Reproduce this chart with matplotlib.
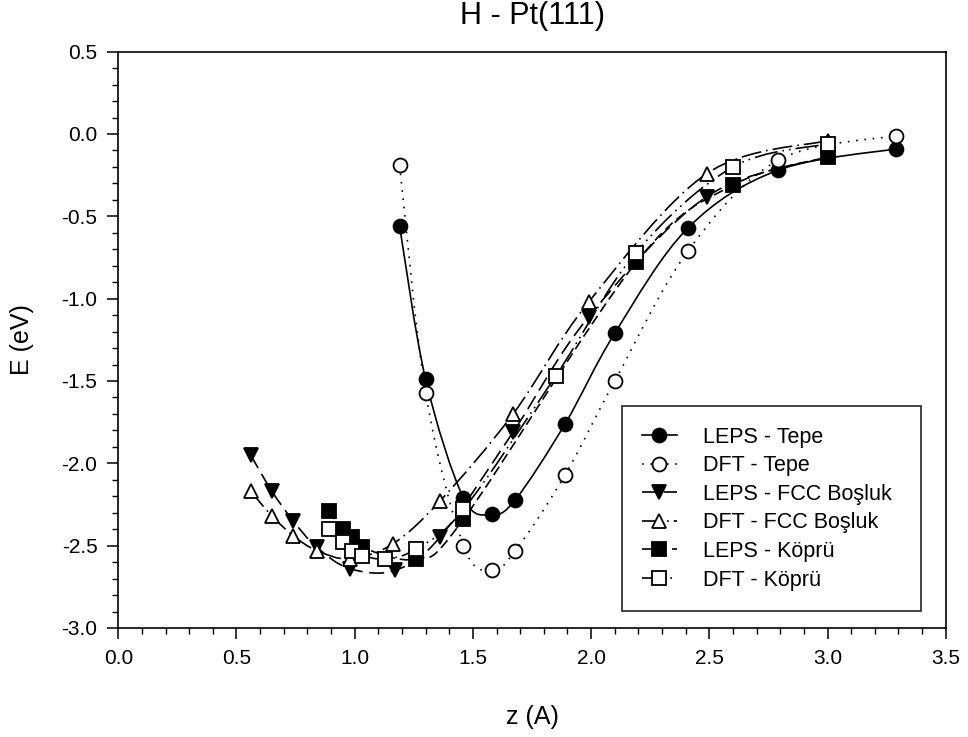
import matplotlib
matplotlib.use("Agg")
import matplotlib.pyplot as plt
from matplotlib.path import Path
from matplotlib.patches import PathPatch
from matplotlib.lines import Line2D
from matplotlib.ticker import MultipleLocator, FormatStrFormatter
import numpy as np

plt.rcParams['font.family'] = ['Liberation Sans', 'DejaVu Sans']

# z (A) ve E (eV) degerleri
z_tepe = [1.19, 1.30, 1.46, 1.58, 1.68, 1.89, 2.10, 2.41, 2.79, 3.29]
leps_tepe = [-0.56, -1.49, -2.21, -2.31, -2.22, -1.76, -1.21, -0.57, -0.22, -0.09]
dft_tepe = [-0.19, -1.57, -2.50, -2.65, -2.53, -2.07, -1.50, -0.71, -0.16, -0.01]

z_fcc = [0.56, 0.65, 0.74, 0.84, 0.98, 1.17, 1.36, 1.67, 1.99, 2.49, 3.00]
leps_fcc = [-1.95, -2.17, -2.35, -2.51, -2.64, -2.65, -2.45, -1.81, -1.11, -0.38, -0.14]
z_fcc_dft = [0.56, 0.65, 0.74, 0.84, 0.98, 1.16, 1.36, 1.67, 1.99, 2.49, 3.00]
dft_fcc = [-2.17, -2.32, -2.44, -2.53, -2.58, -2.49, -2.23, -1.70, -1.02, -0.24, -0.04]

z_kopru_leps = [0.89, 0.95, 0.99, 1.03, 1.26, 1.46, 2.19, 2.60, 3.00]
leps_kopru = [-2.29, -2.40, -2.45, -2.51, -2.58, -2.34, -0.78, -0.31, -0.14]
z_kopru_dft = [0.89, 0.95, 0.99, 1.03, 1.13, 1.26, 1.46, 1.85, 2.19, 2.60, 3.00]
dft_kopru = [-2.40, -2.48, -2.53, -2.56, -2.58, -2.52, -2.28, -1.47, -0.72, -0.20, -0.06]

labels = ['LEPS - Tepe', 'DFT - Tepe', 'LEPS - FCC Boşluk', 'DFT - FCC Boşluk',
          'LEPS - Köprü', 'DFT - Köprü']


def smooth_path(x, y):
    # Catmull-Rom egrisi -> kubik Bezier
    p = np.column_stack([x, y]).astype(float)
    pts = [p[0]]
    codes = [Path.MOVETO]
    n = len(p)
    for i in range(n - 1):
        p0 = p[i - 1] if i > 0 else p[i]
        p1 = p[i]
        p2 = p[i + 1]
        p3 = p[i + 2] if i + 2 < n else p[i + 1]
        c1 = p1 + (p2 - p0) / 6.0
        c2 = p2 - (p3 - p1) / 6.0
        pts += [c1, c2, p2]
        codes += [Path.CURVE4] * 3
    return Path(pts, codes)


fig = plt.figure(figsize=(9.68, 7.37), dpi=100)
ax = fig.add_axes([0.1222, 0.1479, 0.8548, 0.7820])

series = [
    (z_tepe, leps_tepe, 'o', 'black', '-'),
    (z_tepe, dft_tepe, 'o', 'white', (0, (1, 4))),
    (z_fcc, leps_fcc, 'v', 'black', (0, (9, 4))),
    (z_fcc_dft, dft_fcc, '^', 'white', (0, (12, 3, 1, 3))),
    (z_kopru_leps, leps_kopru, 's', 'black', (0, (6, 3))),
    (z_kopru_dft, dft_kopru, 's', 'white', (0, (14, 3, 1, 3, 1, 3))),
]

handles = []
for (x, y, m, fc, ls), lab in zip(series, labels):
    ax.add_patch(PathPatch(smooth_path(x, y), facecolor='none', edgecolor='black',
                           lw=1.2, linestyle=ls, zorder=2))
    ax.plot(x, y, ls='none', marker=m, ms=10, mfc=fc, mec='black', mew=1.3, zorder=3)
    handles.append(Line2D([], [], color='black', lw=1.2, linestyle=ls, marker=m,
                          ms=10, mfc=fc, mec='black', mew=1.3))

ax.set_xlim(0, 3.5)
ax.set_ylim(-3.0, 0.5)
ax.xaxis.set_major_locator(MultipleLocator(0.5))
ax.xaxis.set_minor_locator(MultipleLocator(0.1))
ax.yaxis.set_major_locator(MultipleLocator(0.5))
ax.yaxis.set_minor_locator(MultipleLocator(0.1))
ax.xaxis.set_major_formatter(FormatStrFormatter('%.1f'))
ax.yaxis.set_major_formatter(FormatStrFormatter('%.1f'))
ax.tick_params(which='major', direction='out', length=8, width=1.1, labelsize=15, pad=7,
               top=False, right=False)
ax.tick_params(which='minor', direction='out', length=4.5, width=1.0, top=False, right=False)
for s in ax.spines.values():
    s.set_linewidth(1.2)

# basliklar
fig.text(0.5496, 1 - 16 / 737, 'H - Pt(111)', fontsize=22, ha='center', va='center')
fig.text(0.5496, 1 - 717 / 737, 'z (A)', fontsize=18, ha='center', va='center')
fig.text(22 / 968, 1 - 340 / 737, 'E (eV)', fontsize=18, ha='center', va='center',
         rotation=90)

leg = ax.legend(handles, labels, loc='lower left',
                bbox_to_anchor=(0.6083, 0.0295, 0.3614, 0.3535), mode='expand',
                fontsize=15.5, frameon=True, fancybox=False, edgecolor='black',
                handlelength=1.6, handletextpad=1.22, labelspacing=0.35,
                borderpad=0.95, borderaxespad=0)
leg.get_frame().set_linewidth(1.3)

fig.savefig('out.png', dpi=100)
